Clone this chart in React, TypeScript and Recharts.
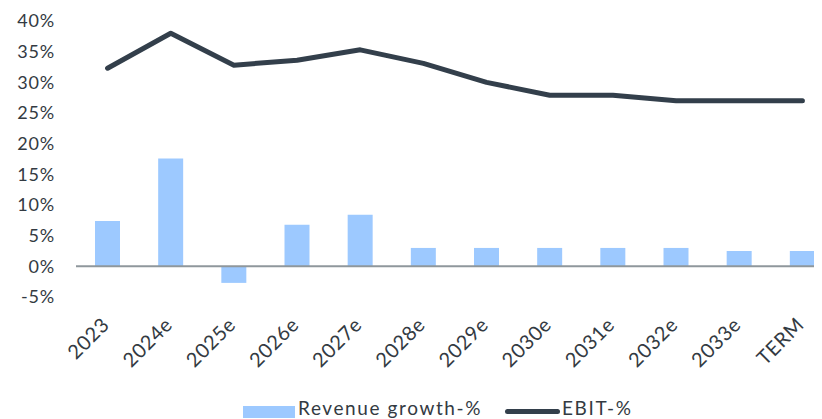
import React from 'react';
import { ComposedChart, Bar, Line, XAxis, YAxis, ReferenceLine } from 'recharts';

const categories = ['2023', '2024e', '2025e', '2026e', '2027e', '2028e', '2029e', '2030e', '2031e', '2032e', '2033e', 'TERM'];
const revenueGrowth = [7.4, 17.6, -2.7, 6.8, 8.4, 3.0, 3.0, 3.0, 3.0, 3.0, 2.5, 2.5];
const ebitMargin = [32.3, 38.0, 32.8, 33.6, 35.3, 33.1, 30.0, 27.9, 27.9, 27.0, 27.0, 27.0];
const yTicks = [-5, 0, 5, 10, 15, 20, 25, 30, 35, 40];

const data = categories.map((name, i) => ({ name, growth: revenueGrowth[i], ebit: ebitMargin[i] }));

const FONT = 'Lato, "Open Sans", sans-serif';
const TEXT = '#333a42';
const BAR = '#9dc9ff';
const LINE = '#333f4b';

const XTick = ({ x, y, payload }: any) => (
  <g transform={`translate(${x + 3},${y + 21})`}>
    <text x={0} y={0} textAnchor="end" transform="rotate(-45)" fontSize={20} letterSpacing={0.6} fill={TEXT} fontFamily={FONT}>
      {payload.value}
    </text>
  </g>
);

const App: React.FC = () => {
  return (
    <div style={{ position: 'relative', margin: '-8px 0 0 -8px', width: 822, height: 419, overflow: 'hidden' }}>
      <ComposedChart width={840} height={419} data={data} margin={{ top: 21, right: 6, left: 10, bottom: 42 }} barCategoryGap={0}>
        <XAxis dataKey="name" axisLine={false} tickLine={false} interval={0} height={80} tick={<XTick />} />
        <YAxis
          width={66}
          domain={[-5, 40]}
          ticks={yTicks}
          axisLine={false}
          tickLine={false}
          tickSize={0}
          tickMargin={21}
          tickFormatter={(v: number) => `${v}%`}
          tick={{ fontSize: 18, fill: TEXT, fontFamily: FONT, letterSpacing: 0.8 }}
        />
        <ReferenceLine y={0} stroke="#8f979c" strokeWidth={2} />
        <Bar dataKey="growth" fill={BAR} barSize={25} isAnimationActive={false} />
        <Line type="linear" dataKey="ebit" stroke={LINE} strokeWidth={5} strokeLinecap="round" strokeLinejoin="round" dot={false} isAnimationActive={false} />
      </ComposedChart>
      <div style={{ position: 'absolute', left: 243, top: 406, width: 52, height: 12, background: BAR }} />
      <div style={{ position: 'absolute', left: 298, top: 396, fontFamily: FONT, fontSize: 19, letterSpacing: 1.6, color: TEXT, whiteSpace: 'nowrap', lineHeight: '24px' }}>
        Revenue growth-%
      </div>
      <div style={{ position: 'absolute', left: 505, top: 409, width: 55, height: 5, borderRadius: 3, background: LINE }} />
      <div style={{ position: 'absolute', left: 562, top: 396, fontFamily: FONT, fontSize: 19, letterSpacing: 1.6, color: TEXT, whiteSpace: 'nowrap', lineHeight: '24px' }}>
        EBIT-%
      </div>
    </div>
  );
};

export default App;
